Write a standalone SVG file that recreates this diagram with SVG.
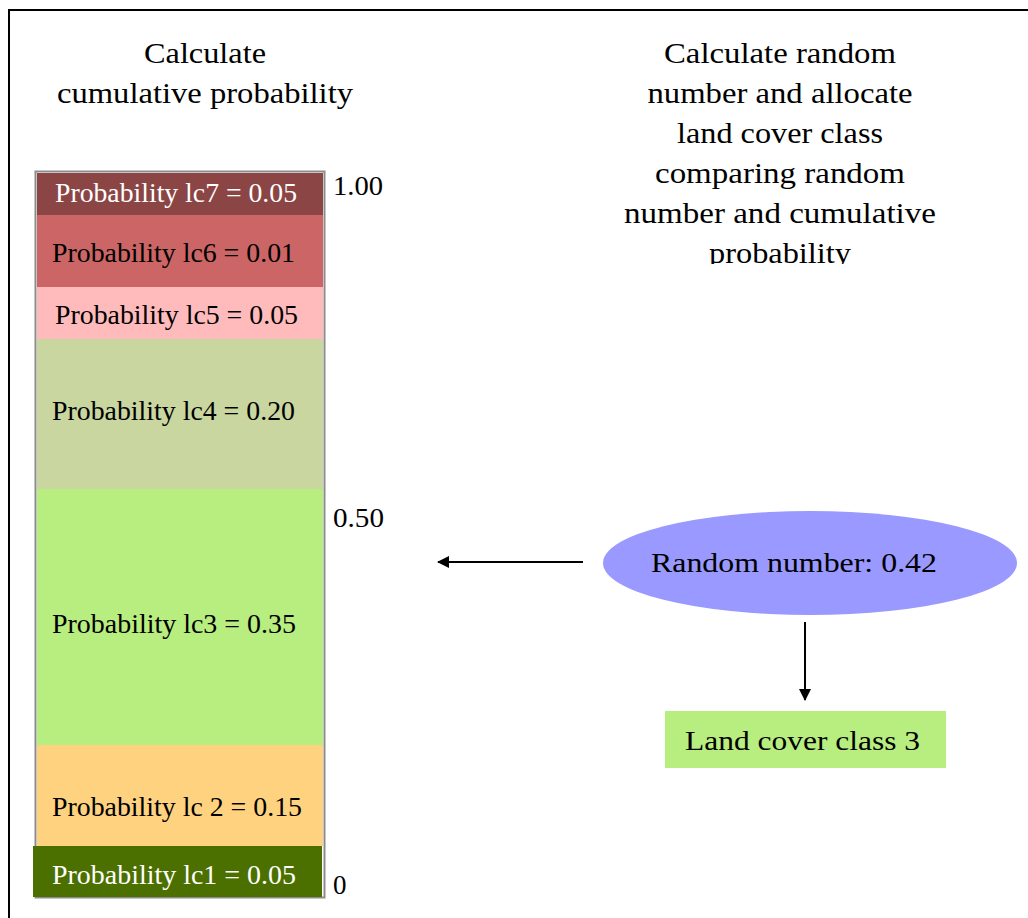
<svg xmlns="http://www.w3.org/2000/svg" width="1028" height="918" viewBox="0 0 1028 918">
<defs>
<style>
text{font-family:"Liberation Serif","DejaVu Serif",serif;font-size:27px;fill:#000}
.w{fill:#fff}
.t{font-size:29px}
.conn{stroke:#000;stroke-width:2;fill:none}
</style>
<marker id="ah" viewBox="0 0 12 12" refX="11" refY="6" markerWidth="12" markerHeight="12" markerUnits="userSpaceOnUse" orient="auto">
<path d="M0,0 L12,6 L0,12 Z" fill="#000"/>
</marker>
<clipPath id="clipT"><rect x="560" y="30" width="440" height="234"/></clipPath>
</defs>
<rect width="1028" height="918" fill="#fff"/>
<path d="M9,918 V10 H1028" stroke="#000" stroke-width="2" fill="none"/>

<g id="title-left">
<text class="t" x="205" y="63" text-anchor="middle" textLength="122" lengthAdjust="spacingAndGlyphs">Calculate</text>
<text class="t" x="205" y="103" text-anchor="middle" textLength="296" lengthAdjust="spacingAndGlyphs">cumulative probability</text>
</g>

<g id="title-right" clip-path="url(#clipT)">
<text class="t" x="780" y="63" text-anchor="middle" textLength="232" lengthAdjust="spacingAndGlyphs">Calculate random</text>
<text class="t" x="780" y="103" text-anchor="middle" textLength="265" lengthAdjust="spacingAndGlyphs">number and allocate</text>
<text class="t" x="780" y="143" text-anchor="middle" textLength="206" lengthAdjust="spacingAndGlyphs">land cover class</text>
<text class="t" x="780" y="183" text-anchor="middle" textLength="250" lengthAdjust="spacingAndGlyphs">comparing random</text>
<text class="t" x="780" y="223" text-anchor="middle" textLength="312" lengthAdjust="spacingAndGlyphs">number and cumulative</text>
<text class="t" x="780" y="263" text-anchor="middle" textLength="142" lengthAdjust="spacingAndGlyphs">probability</text>
</g>

<g id="column">
<rect x="35.5" y="171.5" width="289" height="726" fill="none" stroke="#8c8c8c" stroke-width="2"/>
<g id="lc7"><rect x="37" y="173" width="286" height="42" fill="#8B4545"/><text class="w" x="55" y="202" textLength="242" lengthAdjust="spacingAndGlyphs">Probability lc7 = 0.05</text></g>
<g id="lc6"><rect x="37" y="215" width="286" height="72" fill="#CC6565"/><text x="52" y="262" textLength="243" lengthAdjust="spacingAndGlyphs">Probability lc6 = 0.01</text></g>
<g id="lc5"><rect x="37" y="287" width="286" height="52" fill="#FFBBBB"/><text x="55" y="324" textLength="243" lengthAdjust="spacingAndGlyphs">Probability lc5 = 0.05</text></g>
<g id="lc4"><rect x="37" y="339" width="286" height="150" fill="#C9D69F"/><text x="52" y="420" textLength="243" lengthAdjust="spacingAndGlyphs">Probability lc4 = 0.20</text></g>
<g id="lc3"><rect x="37" y="489" width="286" height="256" fill="#B8ED80"/><text x="52" y="633" textLength="244" lengthAdjust="spacingAndGlyphs">Probability lc3 = 0.35</text></g>
<g id="lc2"><rect x="37" y="745" width="286" height="101" fill="#FFD280"/><text x="52" y="816" textLength="250" lengthAdjust="spacingAndGlyphs">Probability lc 2 = 0.15</text></g>
<g id="lc1"><rect x="33" y="846" width="289" height="51" fill="#4C7000"/><text class="w" x="52" y="884" textLength="244" lengthAdjust="spacingAndGlyphs">Probability lc1 = 0.05</text></g>
</g>

<g id="axis-labels">
<text x="333" y="195" textLength="50" lengthAdjust="spacingAndGlyphs">1.00</text>
<text x="333" y="527" textLength="51" lengthAdjust="spacingAndGlyphs">0.50</text>
<text x="333" y="894">0</text>
</g>

<g id="random-number">
<ellipse cx="810" cy="563" rx="207" ry="52" fill="#9999FF"/>
<text x="651" y="572" textLength="286" lengthAdjust="spacingAndGlyphs">Random number: 0.42</text>
</g>

<g id="land-cover-class">
<rect x="665" y="711" width="281" height="57" fill="#B8ED80"/>
<text x="685" y="750" textLength="235" lengthAdjust="spacingAndGlyphs">Land cover class 3</text>
</g>

<g id="connectors">
<line class="conn" x1="583" y1="562" x2="438" y2="562" marker-end="url(#ah)"/>
<line class="conn" x1="805" y1="622" x2="805" y2="700" marker-end="url(#ah)"/>
</g>
</svg>
